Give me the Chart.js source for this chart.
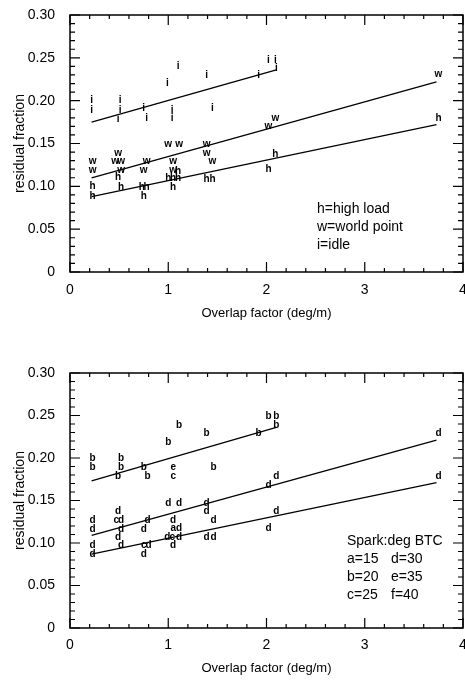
<!DOCTYPE html>
<html>
<head>
<meta charset="utf-8">
<script src="https://cdn.jsdelivr.net/npm/chart.js@4"></script>
<style>
  html, body { margin: 0; padding: 0; background: #fff; }
  body { width: 465px; height: 683px; position: relative; overflow: hidden;
         font-family: "Liberation Sans", Arial, sans-serif; color: #000; }
  .panel { position: absolute; left: 0; width: 465px; }
  .note { position: absolute; font-size: 14px; line-height: 18px; white-space: pre; }
  .note span { display: inline-block; width: 44px; }
</style>
</head>
<body>
<div class="panel" style="top:0;height:330px"><canvas id="top" width="465" height="330"></canvas></div>
<div class="panel" style="top:330px;height:353px"><canvas id="bottom" width="465" height="353"></canvas></div>

<div class="note" style="left:317px;top:199px">h=high load
w=world point
i=idle</div>
<div class="note" style="left:347px;top:531px">Spark:deg BTC
<span>a=15</span>d=30
<span>b=20</span>e=35
<span>c=25</span>f=40</div>

<script>
// tick labels
const xTicks = [0, 1, 2, 3, 4];
const yTicks = [0, 0.05, 0.10, 0.15, 0.20, 0.25, 0.30];

// upper panel: h = high load, w = world point, i = idle
const iX = [0.22, 0.22, 0.51, 0.51, 0.49, 0.75, 0.78, 0.99, 1.04, 1.04, 1.10, 1.39, 1.45, 1.92, 2.02, 2.09, 2.10];
const iY = [0.200, 0.189, 0.200, 0.189, 0.178, 0.191, 0.179, 0.220, 0.189, 0.179, 0.240, 0.230, 0.191, 0.230, 0.247, 0.247, 0.238];
const wX = [0.23, 0.23, 0.49, 0.46, 0.52, 0.52, 0.78, 0.75, 1.00, 1.11, 1.05, 1.05, 1.39, 1.39, 1.45, 2.09, 2.02, 3.75];
const wY = [0.129, 0.119, 0.139, 0.129, 0.129, 0.119, 0.129, 0.119, 0.149, 0.149, 0.129, 0.119, 0.149, 0.139, 0.129, 0.179, 0.170, 0.231];
const hX = [0.23, 0.23, 0.49, 0.52, 0.73, 0.78, 0.75, 1.00, 1.05, 1.10, 1.05, 1.10, 1.39, 1.45, 2.02, 2.09, 3.75];
const hY = [0.100, 0.088, 0.111, 0.099, 0.099, 0.099, 0.089, 0.110, 0.110, 0.110, 0.099, 0.118, 0.108, 0.108, 0.120, 0.138, 0.179];

// fitted lines, upper panel (end points)
const fitIX = [0.22, 2.10], fitIY = [0.175, 0.236];
const fitWX = [0.22, 3.73], fitWY = [0.110, 0.222];
const fitHX = [0.22, 3.73], fitHY = [0.088, 0.172];

// lower panel: spark advance a..f
const aX = [1.05], aY = [0.117];
const bX = [0.23, 0.23, 0.52, 0.52, 0.49, 0.75, 0.79, 1.00, 1.11, 1.39, 1.46, 1.92, 2.02, 2.10, 2.10];
const bY = [0.200, 0.189, 0.200, 0.189, 0.178, 0.189, 0.178, 0.219, 0.239, 0.229, 0.189, 0.229, 0.249, 0.249, 0.239];
const cX = [1.05, 0.47, 0.75, 1.04], cY = [0.178, 0.127, 0.097, 0.107];
const eX = [1.05], eY = [0.189];
const dX = [0.23, 0.23, 0.23, 0.23, 0.49, 0.52, 0.52, 0.49, 0.52, 0.79, 0.75, 0.80, 0.75,
            1.00, 1.11, 1.05, 1.11, 0.99, 1.11, 1.05, 1.39, 1.39, 1.46, 1.39, 1.46,
            2.02, 2.02, 2.10, 2.10, 3.75, 3.75];
const dY = [0.127, 0.116, 0.097, 0.087, 0.137, 0.127, 0.116, 0.107, 0.097, 0.127, 0.116, 0.097, 0.087,
            0.147, 0.147, 0.127, 0.117, 0.107, 0.107, 0.097, 0.147, 0.137, 0.127, 0.107, 0.107,
            0.117, 0.168, 0.178, 0.137, 0.229, 0.179];

// fitted lines, lower panel
const fitBX = [0.22, 2.10], fitBY = [0.173, 0.236];
const fitD1X = [0.22, 3.73], fitD1Y = [0.109, 0.221];
const fitD2X = [0.22, 3.73], fitD2Y = [0.087, 0.171];

Chart.defaults.font.family = '"Liberation Sans", Arial, sans-serif';
Chart.defaults.color = '#000';

const pts = (xs, ys) => xs.map((x, i) => ({ x: x, y: ys[i] }));

function letterSet(letter, xs, ys) {
  return { type: 'scatter', letter: letter, data: pts(xs, ys), pointRadius: 0, pointHoverRadius: 0 };
}
function fitSet(xs, ys) {
  return { type: 'line', data: pts(xs, ys), showLine: true, borderColor: '#000',
           borderWidth: 1.3, pointRadius: 0, fill: false, tension: 0 };
}

// draws the letter markers at the points placed by the scales
const letterMarks = {
  id: 'letterMarks',
  afterDatasetsDraw(chart) {
    const ctx = chart.ctx;
    ctx.save();
    ctx.fillStyle = '#000';
    ctx.font = 'bold 10px "Liberation Sans", Arial, sans-serif';
    ctx.textAlign = 'center';
    ctx.textBaseline = 'middle';
    chart.data.datasets.forEach((ds, k) => {
      if (!ds.letter) return;
      chart.getDatasetMeta(k).data.forEach(el => ctx.fillText(ds.letter, el.x, el.y));
    });
    ctx.restore();
  }
};

// box frame with inward ticks on all four sides
const frameTicks = {
  id: 'frameTicks',
  afterDatasetsDraw(chart) {
    const { ctx, chartArea: a, scales: { x, y } } = chart;
    ctx.save();
    ctx.strokeStyle = '#000';
    ctx.lineWidth = 1.5;
    ctx.strokeRect(a.left, a.top, a.right - a.left, a.bottom - a.top);
    ctx.lineWidth = 1.2;
    ctx.beginPath();
    for (let i = 0; i <= 20; i++) {
      const px = x.getPixelForValue(i * 0.2);
      const len = i % 5 === 0 ? 10 : 4;
      ctx.moveTo(px, a.bottom); ctx.lineTo(px, a.bottom - len);
      ctx.moveTo(px, a.top); ctx.lineTo(px, a.top + len);
    }
    for (let j = 0; j <= 30; j++) {
      const py = y.getPixelForValue(j * 0.01);
      const len = j % 5 === 0 ? 10 : 5;
      ctx.moveTo(a.left, py); ctx.lineTo(a.left + len, py);
      ctx.moveTo(a.right, py); ctx.lineTo(a.right - len, py);
    }
    ctx.stroke();
    ctx.restore();
  }
};

function makeChart(id, datasets, areaTop, areaBottom, tickPad, titlePad) {
  const canvas = document.getElementById(id);
  const H = canvas.height;
  return new Chart(canvas, {
    type: 'scatter',
    data: { datasets: datasets },
    options: {
      responsive: false,
      animation: false,
      events: [],
      layout: { padding: { top: areaTop, right: 2, left: 0, bottom: 0 } },
      plugins: { legend: { display: false }, tooltip: { enabled: false } },
      scales: {
        x: {
          type: 'linear', min: 0, max: 4,
          afterBuildTicks: s => { s.ticks = xTicks.map(v => ({ value: v })); },
          afterFit: s => { s.height = H - areaBottom; s.paddingLeft = 0; s.paddingRight = 0; },
          grid: { display: false },
          border: { display: false },
          ticks: { font: { size: 14 }, padding: tickPad, maxRotation: 0, callback: v => String(v) },
          title: { display: true, text: 'Overlap factor (deg/m)', font: { size: 13 },
                   padding: { top: 0, bottom: titlePad } }
        },
        y: {
          type: 'linear', min: 0, max: 0.3,
          afterBuildTicks: s => { s.ticks = yTicks.map(v => ({ value: v })); },
          afterFit: s => { s.width = 70; s.paddingTop = 0; s.paddingBottom = 0; },
          grid: { display: false },
          border: { display: false },
          ticks: { font: { size: 14 }, padding: 7, callback: v => v === 0 ? '0' : v.toFixed(2) },
          title: { display: true, text: 'residual fraction', font: { size: 14 },
                   padding: { top: 12, bottom: 0 } }
        }
      }
    },
    plugins: [frameTicks, letterMarks]
  });
}

makeChart('top', [
  fitSet(fitIX, fitIY), fitSet(fitWX, fitWY), fitSet(fitHX, fitHY),
  letterSet('i', iX, iY), letterSet('w', wX, wY), letterSet('h', hX, hY)
], 15, 272, 2, 9);

makeChart('bottom', [
  fitSet(fitBX, fitBY), fitSet(fitD1X, fitD1Y), fitSet(fitD2X, fitD2Y),
  letterSet('a', aX, aY), letterSet('b', bX, bY), letterSet('c', cX, cY),
  letterSet('d', dX, dY), letterSet('e', eX, eY)
], 43, 298, 1, 7);
</script>
</body>
</html>
